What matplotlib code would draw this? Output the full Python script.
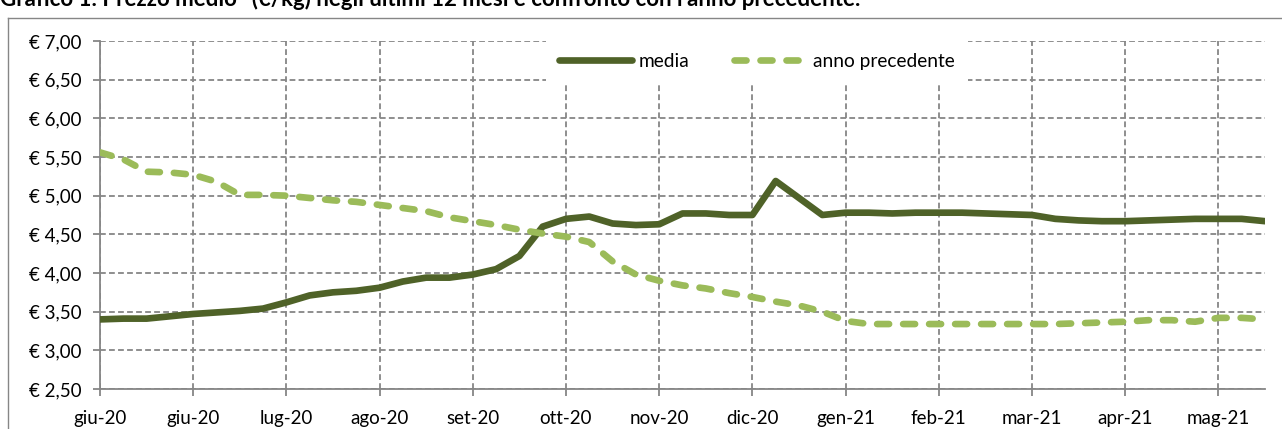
import numpy as np
import matplotlib
matplotlib.use("Agg")
import matplotlib.pyplot as plt
from matplotlib.lines import Line2D

plt.rcParams["font.family"] = ["Lato", "DejaVu Sans"]

# weekly prices, last 12 months (€/kg)
media = [3.40, 3.41, 3.41, 3.44, 3.47, 3.49, 3.51, 3.54, 3.62, 3.71,
         3.75, 3.77, 3.81, 3.89, 3.94, 3.94, 3.98, 4.05, 4.22, 4.60,
         4.70, 4.73, 4.64, 4.62, 4.63, 4.77, 4.77, 4.75, 4.75, 5.19,
         4.97, 4.75, 4.78, 4.78, 4.77, 4.78, 4.78, 4.78, 4.77, 4.76,
         4.75, 4.70, 4.68, 4.67, 4.67, 4.68, 4.69, 4.70, 4.70, 4.70,
         4.67]
anno_prec = [5.56, 5.47, 5.31, 5.30, 5.27, 5.18, 5.01, 5.01, 5.00, 4.97,
             4.94, 4.92, 4.88, 4.84, 4.80, 4.72, 4.67, 4.62, 4.56, 4.51,
             4.47, 4.40, 4.15, 3.98, 3.90, 3.84, 3.80, 3.74, 3.69, 3.63,
             3.58, 3.50, 3.38, 3.34, 3.34, 3.34, 3.34, 3.34, 3.34, 3.34,
             3.34, 3.34, 3.35, 3.36, 3.37, 3.39, 3.39, 3.37, 3.42, 3.42,
             3.40]
month_labels = ["giu-20", "giu-20", "lug-20", "ago-20", "set-20", "ott-20",
                "nov-20", "dic-20", "gen-21", "feb-21", "mar-21", "apr-21",
                "mag-21"]
y_ticks = [2.5, 3.0, 3.5, 4.0, 4.5, 5.0, 5.5, 6.0, 6.5, 7.0]

dark = "#4F6228"
light = "#9BBB59"
grid_c = "#868686"

x = np.arange(len(media))

fig = plt.figure(figsize=(12.82, 4.29), dpi=100)
ax = fig.add_axes([100 / 1282, 1 - 389 / 429, 1165 / 1282, 348 / 429])

ax.plot(x, media, color=dark, lw=4.8, solid_joinstyle="round",
        solid_capstyle="round", label="media", zorder=3)
ax.plot(x, anno_prec, color=light, lw=4.8, linestyle=(0, (1.8, 2.1)),
        dash_capstyle="round", dash_joinstyle="round",
        label="anno precedente", zorder=3)

ax.set_xlim(0, 50)
ax.set_ylim(2.5, 7.0)
ax.set_yticks(y_ticks)
ax.set_yticklabels(["€ " + f"{v:.2f}".replace(".", ",") for v in y_ticks])
ax.set_xticks(np.arange(0, 49, 4))
ax.set_xticklabels(month_labels)

ax.grid(True, color=grid_c, lw=1.3, linestyle=(0, (3.2, 1.8)))
ax.set_axisbelow(True)
for s in ["top", "right"]:
    ax.spines[s].set_visible(False)
for s in ["left", "bottom"]:
    ax.spines[s].set_color(grid_c)
    ax.spines[s].set_linewidth(1.3)
ax.tick_params(axis="both", colors=grid_c, labelcolor="black",
               labelsize=13.5, length=5, width=1.3, direction="out")
ax.tick_params(axis="y", pad=8)
ax.tick_params(axis="x", pad=10)

leg = ax.legend(loc="center", bbox_to_anchor=(0.564, 0.9425), ncol=2,
                frameon=True, facecolor="white", edgecolor="none",
                fancybox=False, framealpha=1, fontsize=13.8,
                handlelength=3.8, handletextpad=0.35, columnspacing=2.3,
                borderpad=0.7)
leg.set_zorder(5)

# chart area border (partly cut off like the screenshot)
fig.add_artist(Line2D([8 / 1282, 8 / 1282], [0, 1 - 18 / 429],
                      transform=fig.transFigure, color=grid_c, lw=1))
fig.add_artist(Line2D([8 / 1282, 1], [1 - 18 / 429, 1 - 18 / 429],
                      transform=fig.transFigure, color=grid_c, lw=1))

fig.text(0.0, 1 - 6 / 429,
         "Grafico 1: Prezzo medio* (€/kg) negli ultimi 12 mesi e confronto con l'anno precedente.",
         fontsize=16, fontweight="bold", va="baseline", ha="left")

fig.savefig("out.png", dpi=100)
